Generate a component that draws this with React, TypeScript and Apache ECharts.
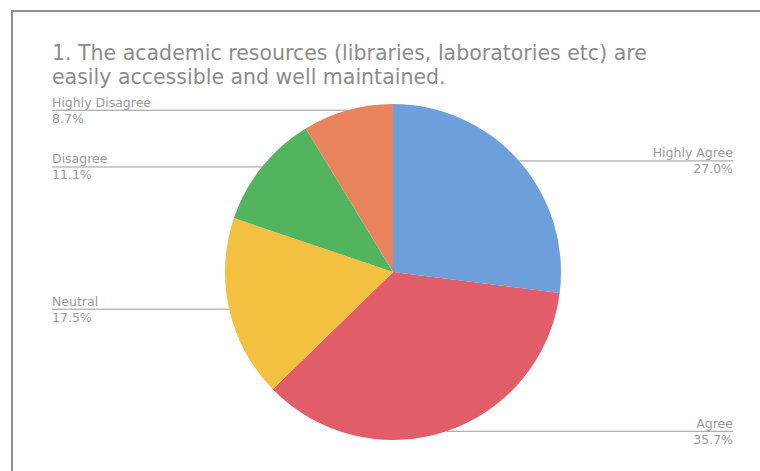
import React, { useEffect, useRef } from "react";
import * as echarts from "echarts";

const titleLines = [
  "1. The academic resources (libraries, laboratories etc) are",
  "easily accessible and well maintained.",
];
const categories = ["Highly Agree", "Agree", "Neutral", "Disagree", "Highly Disagree"];
const values = [27.0, 35.7, 17.5, 11.1, 8.7];
const colors = ["#6c9fdc", "#e15d6a", "#f3c13f", "#52b45e", "#e8835d"];

export default function App() {
  const ref = useRef<HTMLDivElement>(null);
  useEffect(() => {
    if (!ref.current) return;
    const chart = echarts.init(ref.current, undefined, { renderer: "svg" });
    const W = 760;
    chart.setOption({
      animation: false,
      backgroundColor: "#ffffff",
      graphic: [
        {
          type: "rect",
          shape: { x: 12, y: 11, width: 800, height: 500 },
          style: { fill: "none", stroke: "#8f8f8f", lineWidth: 2 },
          silent: true,
        },
      ],
      title: {
        text: titleLines.join("\n"),
        left: 47,
        top: 36,
        textStyle: {
          fontFamily: "DejaVu Sans, sans-serif",
          fontSize: 20.5,
          fontWeight: "normal",
          color: "#8c8c8c",
          lineHeight: 24,
          width: 640,
        },
      },
      series: [
        {
          type: "pie",
          left: 40,
          right: 15,
          top: 0,
          bottom: 0,
          center: [353, 272],
          radius: 168,
          startAngle: 90,
          clockwise: true,
          data: categories.map((c, i) => ({
            name: c,
            value: values[i],
            itemStyle: { color: colors[i] },
          })),
          label: {
            alignTo: "edge",
            edgeDistance: 12,
            formatter: (p: any) => `${p.name}\n${Number(p.value).toFixed(1)}%`,
            fontFamily: "DejaVu Sans, sans-serif",
            fontSize: 12.5,
            lineHeight: 16,
            color: "#9a9a9a",
          },
          labelLine: {
            length: 0,
            length2: 0,
            lineStyle: { color: "#9a9a9a", width: 1 },
          },
          labelLayout: (params: any) => {
            const isLeft = params.labelRect.x < W / 2;
            const points = params.labelLinePoints;
            if (points) {
              points[2][0] = isLeft
                ? params.labelRect.x
                : params.labelRect.x + params.labelRect.width;
            }
            return { labelLinePoints: points };
          },
          emphasis: { disabled: true },
        },
      ],
    });
    return () => chart.dispose();
  }, []);
  return <div ref={ref} style={{ width: 760, height: 471, position: "absolute", left: 0, top: 0 }} />;
}
